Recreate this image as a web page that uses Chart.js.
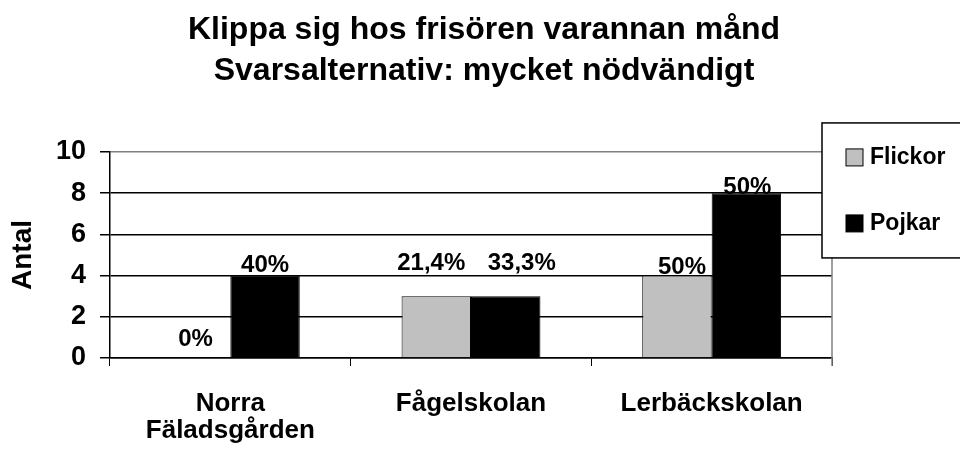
<!DOCTYPE html>
<html>
<head>
<meta charset="utf-8">
<title>Klippa sig hos frisören varannan månd</title>
<script src="https://cdn.jsdelivr.net/npm/chart.js@4.4.0/dist/chart.umd.min.js"></script>
<style>
    html, body { margin: 0; padding: 0; background: #fff; }
    #wrap { width: 960px; height: 456px; }
</style>
</head>
<body>
<div id="wrap"><canvas id="myChart" width="960" height="456"></canvas></div>
<script>
// chart data
var schools = [['Norra', 'Fäladsgården'], 'Fågelskolan', 'Lerbäckskolan'];
var flickor = [0, 3, 4];
var pojkar = [4, 3, 8];
var flickorPct = ['0%', '21,4%', '50%'];
var pojkarPct = ['40%', '33,3%', '50%'];
var yMax = 10;
var yStep = 2;

var FONT = '"Liberation Sans", Arial, sans-serif';

// percent labels above the bars, nudged like in the original
var pctLabels = {
    id: 'pctLabels',
    afterDatasetsDraw: function(chart, args, opts) {
        var ctx = chart.ctx;
        ctx.save();
        ctx.font = 'bold 24px ' + FONT;
        ctx.fillStyle = '#000';
        ctx.textAlign = 'center';
        ctx.textBaseline = 'middle';
        chart.data.datasets.forEach(function(ds, i) {
            var meta = chart.getDatasetMeta(i);
            meta.data.forEach(function(bar, j) {
                var off = opts.offsets[i][j];
                ctx.fillText(ds.pctLabels[j], bar.x + off[0], bar.y + off[1]);
            });
        });
        ctx.restore();
    }
};

// gray right border of the plot area
var plotBorder = {
    id: 'plotBorder',
    beforeDatasetsDraw: function(chart) {
        var ctx = chart.ctx, a = chart.chartArea;
        ctx.save();
        ctx.strokeStyle = '#808080';
        ctx.lineWidth = 1.5;
        ctx.beginPath();
        ctx.moveTo(a.right, a.top);
        ctx.lineTo(a.right, a.bottom + 8);
        ctx.stroke();
        ctx.restore();
    }
};

// boxed legend sitting over the right edge
var boxLegend = {
    id: 'boxLegend',
    afterDraw: function(chart) {
        var ctx = chart.ctx, a = chart.chartArea;
        var x = a.right - 10, y = a.top - 29, w = 150, h = 135;
        ctx.save();
        ctx.fillStyle = '#fff';
        ctx.fillRect(x, y, w, h);
        ctx.strokeStyle = '#000';
        ctx.lineWidth = 1.5;
        ctx.strokeRect(x, y, w, h);
        ctx.font = 'bold 23px ' + FONT;
        ctx.textBaseline = 'middle';
        ctx.textAlign = 'left';
        chart.data.datasets.forEach(function(ds, i) {
            var cy = y + 34 + i * 66;
            ctx.fillStyle = ds.backgroundColor;
            ctx.fillRect(x + 24, cy - 8, 17, 17);
            ctx.lineWidth = 1;
            ctx.strokeRect(x + 24, cy - 8, 17, 17);
            ctx.fillStyle = '#000';
            ctx.fillText(ds.label, x + 48, cy + 1);
        });
        ctx.restore();
    }
};

var ctx = document.getElementById('myChart').getContext('2d');
var myChart = new Chart(ctx, {
    type: 'bar',
    data: {
        labels: schools,
        datasets: [{
            label: 'Flickor',
            data: flickor,
            pctLabels: flickorPct,
            backgroundColor: '#c0c0c0',
            borderColor: '#000',
            borderWidth: 1
        }, {
            label: 'Pojkar',
            data: pojkar,
            pctLabels: pojkarPct,
            backgroundColor: '#000',
            borderColor: '#000',
            borderWidth: 1
        }]
    },
    options: {
        responsive: false,
        animation: false,
        layout: { padding: { left: 8, right: 0, top: 0, bottom: 0 } },
        datasets: {
            bar: { categoryPercentage: 0.577, barPercentage: 1 }
        },
        plugins: {
            legend: { display: false },
            tooltip: { enabled: false },
            title: {
                display: true,
                text: ['Klippa sig hos frisören varannan månd', 'Svarsalternativ: mycket nödvändigt'],
                color: '#000',
                font: { family: FONT, size: 32, weight: 'bold', lineHeight: 1.28 },
                padding: { top: 10, bottom: 60 }
            },
            pctLabels: {
                offsets: [
                    [[0, -19], [-5, -33], [5, -8]],
                    [[0, -10], [16, -33], [1, -6]]
                ]
            }
        },
        scales: {
            x: {
                grid: {
                    display: true,
                    drawOnChartArea: false,
                    tickLength: 8,
                    tickColor: '#000',
                    offset: true
                },
                border: { color: '#000', width: 1.5 },
                ticks: {
                    color: '#000',
                    padding: 25,
                    maxRotation: 0,
                    font: { family: FONT, size: 26, weight: 'bold', lineHeight: 1.02 }
                },
                afterFit: function(scale) { scale.height = 98; }
            },
            y: {
                min: 0,
                max: yMax,
                ticks: {
                    stepSize: yStep,
                    color: '#000',
                    padding: 14,
                    font: { family: FONT, size: 27, weight: 'bold' }
                },
                grid: {
                    color: function(c) { return c.tick && c.tick.value === yMax ? '#808080' : '#000'; },
                    lineWidth: 1.5,
                    tickLength: 10,
                    tickColor: '#000'
                },
                border: { color: '#000', width: 1.5 },
                title: {
                    display: true,
                    text: 'Antal',
                    color: '#000',
                    font: { family: FONT, size: 28, weight: 'bold', lineHeight: 1 },
                    padding: { top: 1.5, bottom: 0 }
                },
                afterFit: function(scale) { scale.width = 102; }
            },
            // empty right axis that only keeps room for the legend box
            yRoom: {
                type: 'linear',
                position: 'right',
                display: true,
                grid: { display: false },
                border: { display: false },
                ticks: { display: false },
                afterFit: function(scale) { scale.width = 128; }
            }
        }
    },
    plugins: [plotBorder, pctLabels, boxLegend]
});
</script>
</body>
</html>
